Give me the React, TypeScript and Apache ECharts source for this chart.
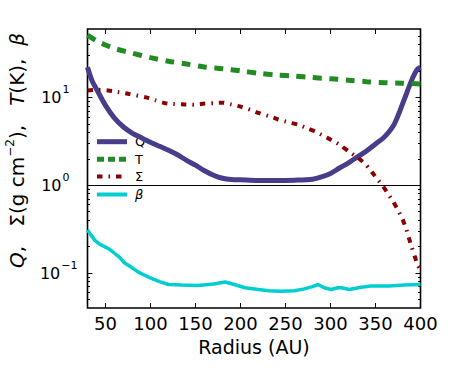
import React, { useEffect, useRef } from 'react';
import * as echarts from 'echarts';

// ---------- data ----------
const radiusQ = [30, 35, 40, 50, 60, 70, 80, 90, 100, 110, 120, 130, 140, 150, 160, 170, 180, 190, 200, 220, 240, 260, 280, 290, 300, 310, 320, 330, 340, 350, 360, 371, 382, 390, 396, 400];
const valuesQ = [22, 15.5, 12.4, 8.1, 5.8, 4.6, 3.9, 3.46, 3.08, 2.77, 2.5, 2.22, 1.92, 1.69, 1.46, 1.3, 1.2, 1.16, 1.15, 1.13, 1.13, 1.14, 1.17, 1.24, 1.36, 1.57, 1.8, 2.1, 2.45, 2.95, 3.55, 5.0, 9.5, 15.5, 20.5, 22];

const radiusT = [30, 40, 50, 60, 70, 80, 100, 120, 140, 160, 180, 200, 220, 240, 260, 280, 300, 320, 340, 360, 380, 400];
const valuesT = [51, 44, 39.5, 36, 33.8, 31.8, 28.3, 25.8, 24, 22.2, 21.2, 20, 18.8, 18, 17.5, 16.8, 16.3, 15.7, 15.1, 14.7, 14.5, 14.2];

const radiusSigma = [30, 40, 53, 60, 75, 95, 105, 116, 125, 138, 149, 160, 170, 181, 190, 201, 211, 221, 232, 242, 253, 264, 275, 283, 293, 303, 312, 320, 329, 338, 344, 351, 358, 364, 370, 375, 380, 384, 390, 397, 400];
const valuesSigma = [12, 12.2, 12, 11.7, 11, 10, 9.3, 8.6, 8.4, 8.3, 8.25, 8.5, 8.6, 8.7, 8.3, 7.8, 7.2, 6.6, 6.1, 5.6, 5.2, 4.9, 4.4, 4.1, 3.6, 3.2, 2.8, 2.43, 2.1, 1.77, 1.5, 1.21, 0.98, 0.8, 0.64, 0.52, 0.41, 0.32, 0.2, 0.123, 0.11];

const radiusBeta = [30, 34, 38, 43, 49, 55, 60, 66, 71, 78, 86, 93, 101, 110, 120, 135, 153, 170, 183, 195, 205, 220, 231, 245, 260, 271, 280, 286, 293, 301, 308, 312, 321, 334, 345, 353, 365, 382, 400];
const valuesBeta = [0.31, 0.27, 0.237, 0.215, 0.2, 0.185, 0.168, 0.15, 0.131, 0.118, 0.103, 0.095, 0.087, 0.08, 0.074, 0.073, 0.072, 0.075, 0.079, 0.073, 0.068, 0.065, 0.063, 0.062, 0.063, 0.066, 0.07, 0.074, 0.068, 0.065, 0.068, 0.068, 0.065, 0.069, 0.071, 0.071, 0.071, 0.073, 0.074];

const xTicks = [50, 100, 150, 200, 250, 300, 350, 400];
const yMajorTicks = [0.1, 1, 10];
const yMinorTicks = [0.05, 0.06, 0.07, 0.08, 0.09, 0.2, 0.3, 0.4, 0.5, 0.6, 0.7, 0.8, 0.9, 2, 3, 4, 5, 6, 7, 8, 9, 20, 30, 40, 50];

const seriesNames = ['Q', 'T', 'Σ', 'β'];
const colors = ['#483D8B', '#228B22', '#8B0000', '#00CED1'];

const FONT = 'DejaVu Sans';

function pairs(xs: number[], ys: number[]) {
  return xs.map((x, i) => [x, ys[i]]);
}

export default function App() {
  const ref = useRef<HTMLDivElement>(null);
  useEffect(() => {
    const chart = echarts.init(ref.current as HTMLDivElement, null, { renderer: 'svg' });

    const yAxisBase = {
      type: 'log',
      logBase: 10,
      min: 0.04,
      max: 60,
      splitLine: { show: false },
      axisLine: { show: false },
    };

    const legendY = [141.7, 159.3, 176.5, 194.5];
    const legendDash: any[] = [null, [7, 4], [5.5, 6, 1.5, 6], null];
    const legendWidth = [5, 5, 4, 4];
    const legendGraphics: any[] = [];
    seriesNames.forEach((n, i) => {
      legendGraphics.push({
        type: 'line',
        shape: { x1: 97, y1: legendY[i], x2: 127, y2: legendY[i] },
        style: { stroke: colors[i], lineWidth: legendWidth[i], lineDash: legendDash[i], lineCap: 'butt' },
        silent: true,
      });
      legendGraphics.push({
        type: 'text',
        x: 135,
        y: legendY[i],
        style: {
          text: n,
          fontSize: 13,
          fontFamily: FONT,
          fontStyle: n === 'β' ? 'italic' : 'normal',
          fill: '#000',
          verticalAlign: 'middle',
          align: 'left',
        },
        silent: true,
      });
    });

    const option: any = {
      animation: false,
      backgroundColor: '#fff',
      grid: {
        left: 87.5,
        top: 29,
        width: 333,
        height: 279,
        show: true,
        borderColor: '#000',
        borderWidth: 1.6,
        backgroundColor: 'transparent',
        containLabel: false,
        outerBoundsMode: 'none',
      },
      xAxis: [
        {
          type: 'value',
          min: 30,
          max: 400,
          position: 'bottom',
          axisLine: { show: false },
          splitLine: { show: false },
          axisTick: { inside: true, length: 5, customValues: xTicks, lineStyle: { color: '#000', width: 1 } },
          axisLabel: { customValues: xTicks, margin: 6, color: '#000', fontSize: 18, fontFamily: FONT },
          name: 'Radius (AU)',
          nameLocation: 'middle',
          nameGap: 29,
          nameTextStyle: { color: '#000', fontSize: 19, fontFamily: FONT },
        },
        {
          type: 'value',
          min: 30,
          max: 400,
          position: 'top',
          axisLine: { show: false },
          splitLine: { show: false },
          axisTick: { inside: true, length: 5, customValues: xTicks, lineStyle: { color: '#000', width: 1 } },
          axisLabel: { show: false },
        },
      ],
      yAxis: [
        {
          ...yAxisBase,
          position: 'left',
          axisTick: { inside: true, length: 5, customValues: yMajorTicks, lineStyle: { color: '#000', width: 1 } },
          axisLabel: {
            customValues: yMajorTicks,
            margin: 10,
            color: '#000',
            fontFamily: FONT,
            formatter: (v: number) => {
              const e = Math.round(Math.log10(v));
              return e >= 0 ? `{b|10}{p|${e}}` : `{b|10}{n|−${-e}}`;
            },
            rich: {
              b: { fontSize: 16, lineHeight: 26, fontFamily: FONT, color: '#000' },
              p: { fontSize: 11, lineHeight: 11, verticalAlign: 'top', padding: [0, 8, 0, 1], fontFamily: FONT, color: '#000' },
              n: { fontSize: 11, lineHeight: 11, verticalAlign: 'top', padding: [0, 0, 0, 1], fontFamily: FONT, color: '#000' },
            },
          },
          name: '{i|Q},   Σ(g cm{s|−2}),   {i|T}(K),  {i|β}',
          nameLocation: 'middle',
          nameGap: 50,
          nameTextStyle: {
            color: '#000',
            fontSize: 20,
            fontFamily: FONT,
            lineHeight: 25,
            padding: [0, 0, 0, 36],
            rich: {
              i: { fontStyle: 'italic', fontSize: 20, fontFamily: FONT, color: '#000', lineHeight: 25 },
              s: { fontSize: 12, lineHeight: 12, verticalAlign: 'top', fontFamily: FONT, color: '#000' },
            },
          },
        },
        {
          ...yAxisBase,
          position: 'right',
          axisTick: { inside: true, length: 5, customValues: yMajorTicks, lineStyle: { color: '#000', width: 1 } },
          axisLabel: { show: false },
        },
        {
          ...yAxisBase,
          position: 'left',
          axisTick: { inside: true, length: 2.5, customValues: yMinorTicks, lineStyle: { color: '#000', width: 1 } },
          axisLabel: { show: false },
        },
        {
          ...yAxisBase,
          position: 'right',
          axisTick: { inside: true, length: 2.5, customValues: yMinorTicks, lineStyle: { color: '#000', width: 1 } },
          axisLabel: { show: false },
        },
      ],
      series: [
        {
          name: seriesNames[0],
          type: 'line',
          data: pairs(radiusQ, valuesQ),
          showSymbol: false,
          symbol: 'none',
          smooth: 0.3,
          lineStyle: { color: colors[0], width: 5 },
          markLine: {
            silent: true,
            symbol: 'none',
            label: { show: false },
            lineStyle: { color: '#000', width: 1, type: 'solid' },
            data: [{ yAxis: 1 }],
          },
        },
        {
          name: seriesNames[1],
          type: 'line',
          data: pairs(radiusT, valuesT),
          showSymbol: false,
          symbol: 'none',
          smooth: 0.3,
          lineStyle: { color: colors[1], width: 5, type: [9, 7.5], cap: 'butt' },
        },
        {
          name: seriesNames[2],
          type: 'line',
          data: pairs(radiusSigma, valuesSigma),
          showSymbol: false,
          symbol: 'none',
          smooth: 0.2,
          lineStyle: { color: colors[2], width: 4, type: [5.5, 6, 1.5, 6], cap: 'butt' },
        },
        {
          name: seriesNames[3],
          type: 'line',
          data: pairs(radiusBeta, valuesBeta),
          showSymbol: false,
          symbol: 'none',
          lineStyle: { color: colors[3], width: 3.5 },
        },
      ],
      graphic: legendGraphics,
    };

    chart.setOption(option);
    return () => chart.dispose();
  }, []);

  return <div ref={ref} style={{ position: 'absolute', left: 0, top: 0, width: 457, height: 377 }} />;
}
